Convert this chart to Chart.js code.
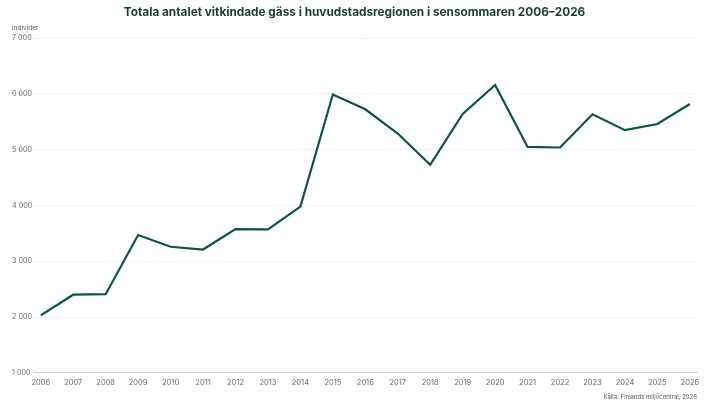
<!DOCTYPE html>
<html>
<head>
<meta charset="utf-8">
<script src="https://cdn.jsdelivr.net/npm/chart.js@4"></script>
<style>
  body { margin: 0; background: #fff; }
  #wrap { width: 720px; height: 403px; position: relative; }
</style>
</head>
<body>
<div id="wrap"><canvas id="myChart"></canvas></div>
<script>
const years = [2006, 2007, 2008, 2009, 2010, 2011, 2012, 2013, 2014, 2015, 2016,
  2017, 2018, 2019, 2020, 2021, 2022, 2023, 2024, 2025, 2026];
const geese = [2030, 2400, 2410, 3470, 3260, 3210, 3575, 3570, 3980, 5990, 5725,
  5290, 4730, 5640, 6160, 5050, 5040, 5635, 5350, 5460, 5820];
const yTicks = [1000, 2000, 3000, 4000, 5000, 6000, 7000];

const titleText = 'Totala antalet vitkindade gäss i huvudstadsregionen i sensommaren 2006–2026';
const unitText = 'individer';
const sourceText = 'Källa: Finlands miljöcentral, 2026';

const green = '#0b5449';
const tickColor = '#5d6f68';

// small label above the y axis
const unitLabel = {
  id: 'unitLabel',
  afterDraw(chart) {
    const ctx = chart.ctx;
    ctx.save();
    ctx.font = '6.5px Inter';
    ctx.fillStyle = '#4d5a55';
    ctx.textAlign = 'left';
    ctx.textBaseline = 'alphabetic';
    ctx.fillText(unitText, 12, 30);
    ctx.restore();
  }
};

const fmt = v => String(v).replace(/\B(?=(\d{3})+(?!\d))/g, ' ');

new Chart(document.getElementById('myChart'), {
  type: 'line',
  data: {
    datasets: [{
      label: 'gäss',
      data: years.map((y, i) => ({ x: y, y: geese[i] })),
      borderColor: green,
      borderWidth: 2.2,
      pointRadius: 0,
      tension: 0,
      fill: false
    }]
  },
  options: {
    responsive: true,
    maintainAspectRatio: false,
    animation: false,
    layout: { padding: { left: 12, right: 23, top: 0, bottom: 0 } },
    plugins: {
      legend: { display: false },
      tooltip: { enabled: false },
      title: {
        display: true,
        text: titleText,
        color: '#1b3d30',
        font: { family: 'Inter', size: 11.8, weight: 'bold' },
        padding: { top: 5, bottom: 19 }
      },
      subtitle: {
        display: true,
        text: sourceText,
        position: 'bottom',
        align: 'end',
        color: '#4d5a55',
        font: { family: 'Inter', size: 6 },
        padding: { top: 2, bottom: 2 }
      }
    },
    scales: {
      x: {
        type: 'linear',
        min: 2005.8,
        max: 2026.22,
        afterBuildTicks: axis => { axis.ticks = years.map(v => ({ value: v })); },
        grid: { display: false, drawTicks: false },
        border: { display: true, color: '#cfcfcf', width: 1 },
        ticks: {
          color: tickColor,
          font: { family: 'Inter', size: 7.5 },
          padding: 5,
          maxRotation: 0,
          autoSkip: false,
          callback: v => String(v)
        }
      },
      y: {
        min: 1000,
        max: 7000,
        afterBuildTicks: axis => { axis.ticks = yTicks.map(v => ({ value: v })); },
        grid: { color: '#f1f1f1', drawTicks: false },
        border: { display: false },
        ticks: {
          color: tickColor,
          font: { family: 'Inter', size: 7.2 },
          padding: 1,
          crossAlign: 'far',
          callback: v => fmt(v)
        }
      }
    }
  },
  plugins: [unitLabel]
});
</script>
</body>
</html>
